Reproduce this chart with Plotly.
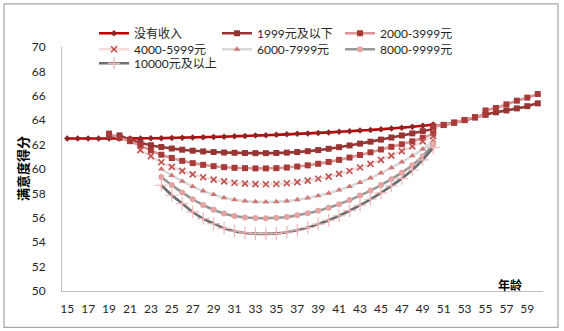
import plotly.graph_objects as go

names = ["没有收入", "1999元及以下", "2000-3999元", "4000-5999元", "6000-7999元", "8000-9999元", "10000元及以上"]

ages_none = list(range(15, 51))
val_none = [62.50, 62.50, 62.50, 62.50, 62.50, 62.50, 62.51, 62.51, 62.52, 62.53, 62.55, 62.57,
            62.59, 62.61, 62.63, 62.65, 62.68, 62.71, 62.74, 62.77, 62.80, 62.84, 62.88, 62.92,
            62.96, 63.00, 63.05, 63.10, 63.15, 63.20, 63.26, 63.32, 63.39, 63.46, 63.54, 63.65]

ages_1999 = list(range(19, 51)) + list(range(50, 61))
val_1999 = [62.62, 62.75, 62.40, 62.15, 61.95, 61.80, 61.68, 61.58, 61.50, 61.44, 61.39, 61.35,
            61.33, 61.31, 61.30, 61.30, 61.31, 61.34, 61.39, 61.46, 61.55, 61.66, 61.79, 61.93,
            62.08, 62.24, 62.41, 62.58, 62.75, 62.92, 63.10, 63.30,
            63.50, 63.62, 63.80, 64.00, 64.22, 64.45, 64.65, 64.80, 64.97, 65.15, 65.38]

ages_2000 = list(range(19, 51)) + [50, 51, 52, 53, 54, 55, 55, 56, 57, 58, 59, 60]
val_2000 = [62.90, 62.55, 62.28, 61.92, 61.52, 61.17, 60.90, 60.67, 60.48, 60.34, 60.23, 60.15,
            60.10, 60.07, 60.05, 60.05, 60.07, 60.12, 60.20, 60.30, 60.43, 60.58, 60.75, 60.94,
            61.15, 61.37, 61.60, 61.82, 62.03, 62.27, 62.55, 62.90,
            63.45, 63.60, 63.80, 64.02, 64.25, 64.45, 64.80, 65.00, 65.30, 65.60, 65.85, 66.15]

ages_4000 = list(range(22, 51))
val_4000 = [61.55, 61.05, 60.55, 60.17, 59.85, 59.56, 59.32, 59.13, 58.98, 58.87, 58.80, 58.76,
            58.75, 58.77, 58.83, 58.92, 59.05, 59.20, 59.38, 59.60, 59.84, 60.12, 60.42, 60.75,
            61.10, 61.47, 61.86, 62.27, 62.70]

ages_6000 = list(range(24, 51))
val_6000 = [60.00, 59.47, 59.00, 58.57, 58.20, 57.90, 57.65, 57.48, 57.37, 57.32, 57.30, 57.32,
            57.38, 57.48, 57.62, 57.80, 58.02, 58.28, 58.57, 58.90, 59.27, 59.67, 60.10, 60.57,
            61.08, 61.63, 62.30]

ages_8000 = list(range(24, 51))
val_8000 = [59.35, 58.68, 58.08, 57.52, 57.05, 56.66, 56.36, 56.15, 56.03, 55.98, 55.97, 56.00,
            56.07, 56.20, 56.37, 56.58, 56.83, 57.12, 57.45, 57.82, 58.23, 58.68, 59.17, 59.70,
            60.30, 61.05, 62.00]

ages_10000 = list(range(24, 51))
val_10000 = [58.67, 57.85, 57.17, 56.48, 55.94, 55.53, 55.14, 54.90, 54.76, 54.70, 54.68, 54.72,
             54.82, 54.98, 55.20, 55.48, 55.80, 56.17, 56.58, 57.03, 57.52, 58.05, 58.62, 59.23,
             59.92, 60.75, 61.75]

x_ticks = list(range(15, 61, 2))
y_ticks = list(range(50, 71, 2))

series = [
    (ages_none, val_none, "#C00000", dict(symbol="diamond", size=5, color="#8E2424")),
    (ages_1999, val_1999, "#953735", dict(symbol="square", size=6, color="#973535")),
    (ages_2000, val_2000, "#DA9694", dict(symbol="square", size=6, color="#A83A3A")),
    (ages_4000, val_4000, "#F2DCDB", dict(symbol="x-thin", size=6, color="#C0504D",
                                          line=dict(width=1.6, color="#C0504D"))),
    (ages_6000, val_6000, "#D9D9D9", dict(symbol="triangle-up", size=6, color="#D07878")),
    (ages_8000, val_8000, "#969696", dict(symbol="circle", size=6, color="#E3A3A3")),
    (ages_10000, val_10000, "#6E6E6E", dict(symbol="cross-thin", size=9, color="#F0B4B4",
                                            line=dict(width=1.2, color="#F0B4B4"))),
]

font_main = "Lato, Noto Sans CJK SC, sans-serif"

# legend slot positions (paper coords): 3 columns x 3 rows like the original
col_x = [0.0665, 0.3222, 0.578]
row_y = [1.0562, 0.9906, 0.9331]

fig = go.Figure()
legend_layout = {}
for i, (name, (xs, ys, lc, mk)) in enumerate(zip(names, series)):
    key = "legend" if i == 0 else f"legend{i + 1}"
    fig.add_trace(go.Scatter(x=xs, y=ys, name=name, mode="lines+markers",
                             line=dict(color=lc, width=2.6, shape="spline", smoothing=0.4),
                             marker=mk, legend=key))
    legend_layout[key] = dict(x=col_x[i % 3], y=row_y[i // 3], xanchor="left", yanchor="middle",
                              orientation="h", itemwidth=30, bgcolor="rgba(0,0,0,0)",
                              font=dict(family=font_main, size=12, color="#262626"))

fig.update_layout(
    width=564, height=331,
    margin=dict(l=62, r=21, t=47, b=40),
    paper_bgcolor="white", plot_bgcolor="white",
    font=dict(family=font_main, size=12, color="#262626"),
    showlegend=True,
    xaxis=dict(range=[14.5, 60.5], tickmode="array", tickvals=x_ticks,
               ticktext=[str(v) for v in x_ticks], showgrid=False, zeroline=False,
               showline=True, linecolor="#BFBFBF", linewidth=1, ticks="",
               ticklabelstandoff=7, tickfont=dict(size=12, color="#262626")),
    yaxis=dict(range=[50, 70], tickmode="array", tickvals=y_ticks,
               ticktext=[str(v) for v in y_ticks], showgrid=False, zeroline=False,
               showline=True, linecolor="#BFBFBF", linewidth=1, ticks="",
               ticklabelstandoff=13, tickfont=dict(size=12, color="#262626")),
    annotations=[
        dict(text="<b>满意度得分</b>", xref="paper", yref="paper", x=-0.083, y=0.5,
             xanchor="center", yanchor="middle",
             textangle=-90, showarrow=False,
             font=dict(family="Noto Sans CJK SC", size=13, color="#000000")),
        dict(text="<b>年龄</b>", xref="paper", yref="paper", x=0.931, y=0.028,
             xanchor="center", yanchor="middle",
             showarrow=False, font=dict(family="Noto Sans CJK SC", size=12, color="#000000")),
    ],
    shapes=[dict(type="rect", xref="paper", yref="paper", x0=-0.1206, x1=1.0312,
                 y0=-0.149, y1=1.1764, line=dict(color="#A6A6A6", width=1.2))],
)
fig.update_layout(**legend_layout)

fig.write_html("out.html")
